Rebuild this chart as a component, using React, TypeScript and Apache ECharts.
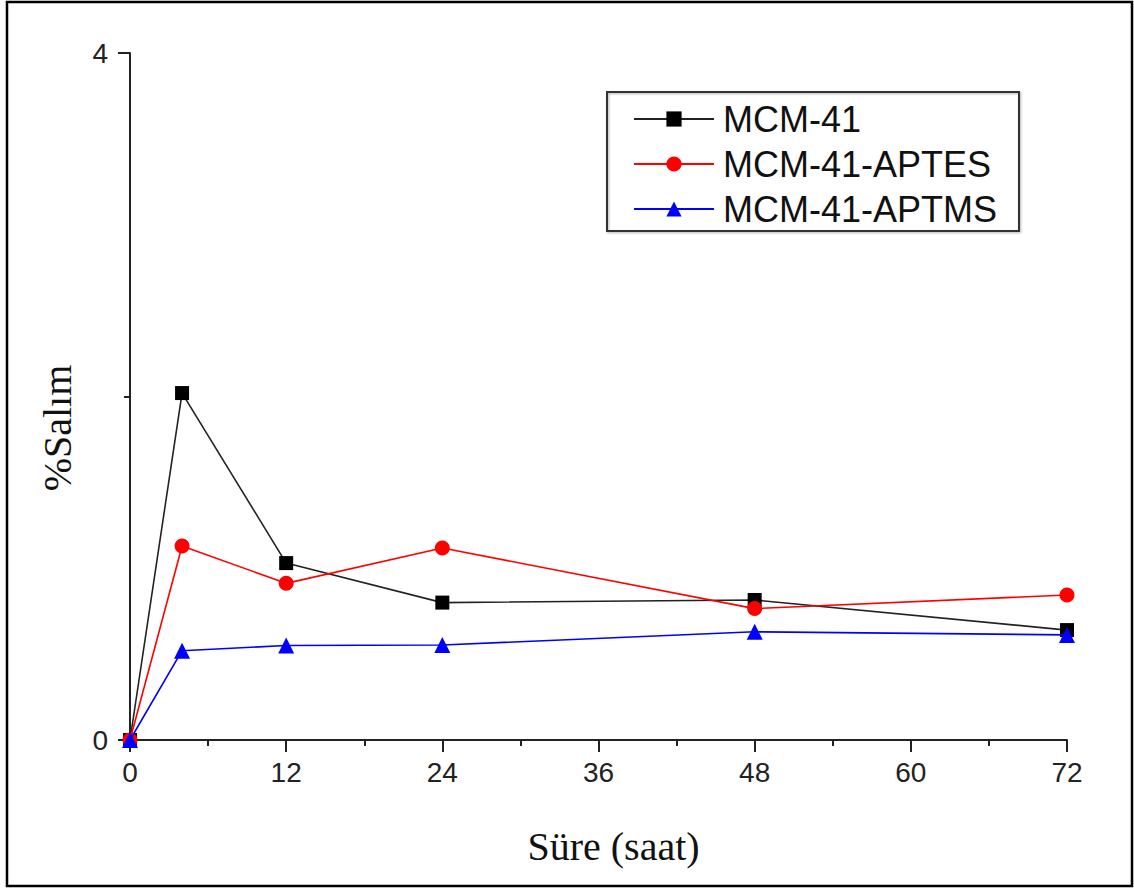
import React, { useEffect, useRef } from "react";
import * as echarts from "echarts";

const hours = [0, 4, 12, 24, 48, 72];
const mcm41 = [0, 2.02, 1.03, 0.80, 0.815, 0.64];
const mcm41Aptes = [0, 1.13, 0.912, 1.118, 0.765, 0.844];
const mcm41Aptms = [0, 0.52, 0.55, 0.553, 0.63, 0.612];
const seriesNames = ["MCM-41", "MCM-41-APTES", "MCM-41-APTMS"];
const xTitle = "Süre (saat)";
const yTitle = "%Salım";

const pair = (ys: number[]) => hours.map((h, i) => [h, ys[i]]);

export default function App() {
  const ref = useRef<HTMLDivElement>(null);
  useEffect(() => {
    if (!ref.current) return;
    const chart = echarts.init(ref.current, null, { renderer: "svg" });
    const axisLine = { show: true, lineStyle: { color: "#222", width: 2 } };
    chart.setOption({
      animation: false,
      backgroundColor: "#fff",
      grid: { left: 130, right: 67, top: 53, bottom: 148, containLabel: false },
      legend: {
        orient: "vertical",
        left: 607,
        top: 92,
        padding: [9, 22, 4, 26],
        itemGap: 9,
        itemWidth: 80,
        itemHeight: 19,
        borderColor: "#333",
        borderWidth: 2,
        shadowColor: "rgba(0,0,0,0.3)",
        shadowBlur: 2,
        shadowOffsetX: 1,
        shadowOffsetY: 1,
        textStyle: { fontFamily: "Liberation Sans", fontSize: 36, color: "#111", padding: [0, 0, 0, 4] },
        data: seriesNames,
      },
      xAxis: {
        type: "value",
        min: 0,
        max: 72,
        interval: 12,
        name: xTitle,
        nameLocation: "middle",
        nameGap: 86,
        nameTextStyle: { fontFamily: "Liberation Serif", fontSize: 40, color: "#111", padding: [0, 0, 0, 30] },
        axisLine,
        axisTick: { show: true, inside: false, length: 12, lineStyle: { color: "#222", width: 2 } },
        minorTick: { show: true, splitNumber: 2, length: 6, lineStyle: { color: "#222", width: 2 } },
        splitLine: { show: false },
        axisLabel: { fontFamily: "Liberation Sans", fontSize: 28, color: "#222", margin: 18 },
      },
      yAxis: {
        type: "value",
        min: 0,
        max: 4,
        interval: 4,
        axisLine,
        axisTick: { show: true, inside: false, length: 12, lineStyle: { color: "#222", width: 2 } },
        minorTick: { show: true, splitNumber: 2, length: 6, lineStyle: { color: "#222", width: 2 } },
        splitLine: { show: false },
        axisLabel: { fontFamily: "Liberation Sans", fontSize: 28, color: "#222", margin: 22 },
      },
      series: [
        {
          name: seriesNames[0],
          type: "line",
          data: pair(mcm41),
          symbol: "rect",
          symbolSize: 14,
          clip: true,
          itemStyle: { color: "#000" },
          lineStyle: { color: "#222", width: 1.6 },
          z: 3,
        },
        {
          name: seriesNames[1],
          type: "line",
          data: pair(mcm41Aptes),
          symbol: "circle",
          symbolSize: 15,
          clip: true,
          itemStyle: { color: "#ff0000" },
          lineStyle: { color: "#ff0000", width: 1.6 },
          z: 4,
        },
        {
          name: seriesNames[2],
          type: "line",
          data: pair(mcm41Aptms),
          symbol: "triangle",
          symbolSize: 16,
          clip: true,
          itemStyle: { color: "#0000ff" },
          lineStyle: { color: "#0000ff", width: 1.6 },
          z: 5,
        },
      ],
      graphic: [
        {
          type: "rect",
          shape: { x: 7, y: 2, width: 1125, height: 884 },
          style: { fill: "none", stroke: "#000", lineWidth: 2.5 },
          silent: true,
        },
        {
          type: "text",
          x: 57,
          y: 428,
          rotation: Math.PI / 2,
          style: {
            text: yTitle,
            fontFamily: "Liberation Serif",
            fontSize: 40,
            fill: "#111",
            align: "center",
            verticalAlign: "middle",
          },
          silent: true,
        },
      ],
    });
    return () => chart.dispose();
  }, []);
  return (
    <div
      ref={ref}
      style={{ position: "fixed", left: 0, top: 0, width: 1134, height: 888 }}
    />
  );
}
